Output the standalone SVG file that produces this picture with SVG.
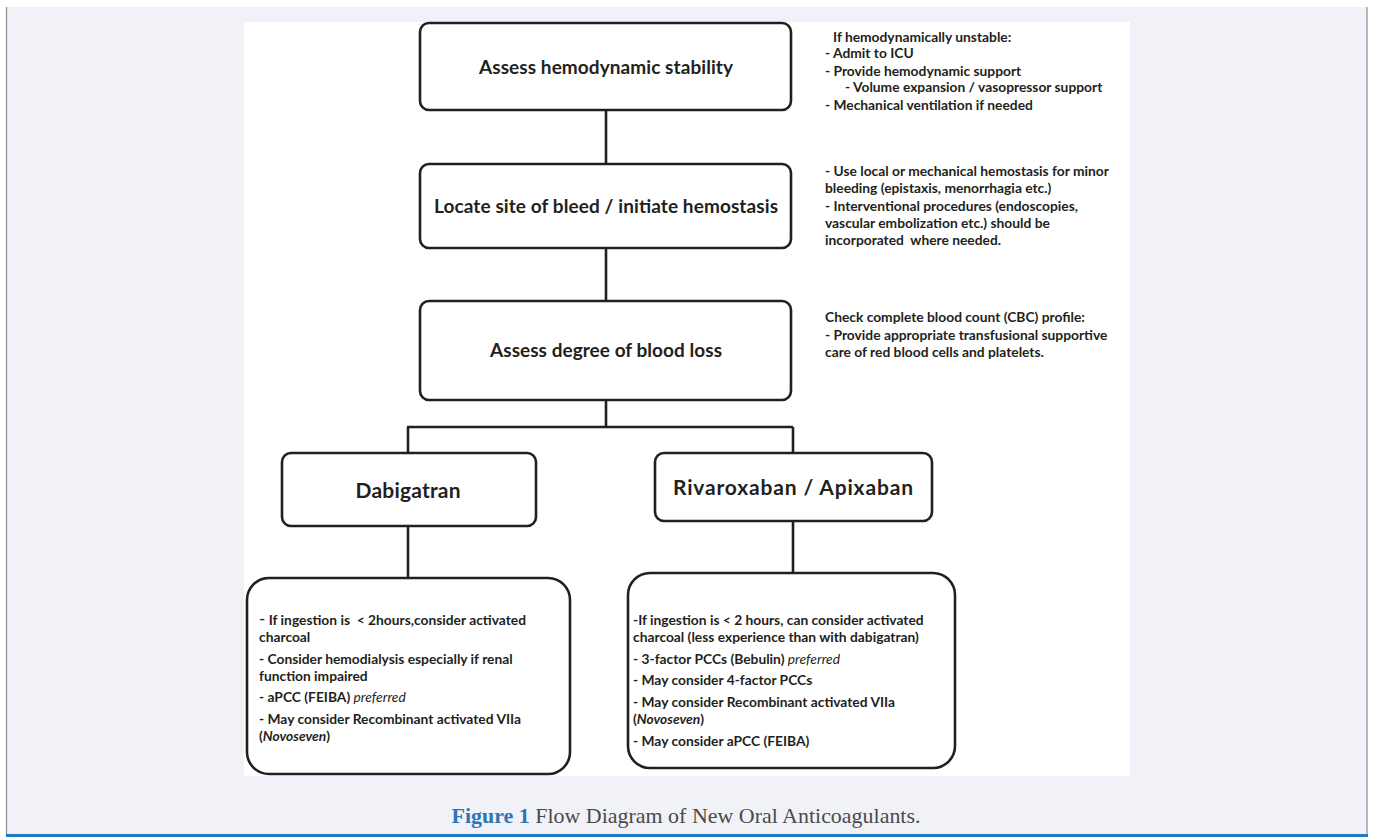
<svg xmlns="http://www.w3.org/2000/svg" width="1373" height="837" viewBox="0 0 1373 837">
<style>
.node rect{fill:#fff;stroke:#231f20;stroke-width:2.6}
.title{font-family:Lato,"Liberation Sans",sans-serif;font-weight:700;fill:#231f20;text-anchor:middle}
.note{font-family:Lato,"Liberation Sans",sans-serif;font-weight:700;font-size:13.8px;fill:#231f20}
.it{font-style:italic;font-weight:400}
.bi{font-style:italic;font-weight:700}
#connectors line{stroke:#231f20;stroke-width:2.6;fill:none}
</style>
<rect x="0" y="0" width="1373" height="837" fill="#fff"/>
<rect x="6" y="7" width="1361" height="830" fill="#f0f2f7"/>
<line x1="6.5" y1="7" x2="6.5" y2="836" stroke="#8c8c8c" stroke-width="1.2"/>
<line x1="1367" y1="7" x2="1367" y2="836" stroke="#8c8c8c" stroke-width="1.2"/>
<rect x="6" y="834" width="1362" height="3" fill="#1f7ac2"/>
<rect x="244" y="22" width="886" height="754" fill="#fff"/>

<g id="connectors">
<line x1="606" y1="110" x2="606" y2="164"/>
<line x1="606" y1="248" x2="606" y2="301"/>
<line x1="606" y1="400" x2="606" y2="427"/>
<line x1="407" y1="427" x2="793" y2="427"/>
<line x1="408" y1="427" x2="408" y2="453"/>
<line x1="793" y1="427" x2="793" y2="453"/>
<line x1="408" y1="526" x2="408" y2="578"/>
<line x1="793" y1="521" x2="793" y2="573"/>
</g>

<g id="n1" class="node">
<rect x="420" y="23" width="371" height="87" rx="9"/>
<text class="title" x="606" y="74" font-size="19" textLength="254" lengthAdjust="spacing">Assess hemodynamic stability</text>
</g>
<g id="n2" class="node">
<rect x="420" y="164" width="371" height="84" rx="9"/>
<text class="title" x="606" y="213" font-size="19" textLength="344" lengthAdjust="spacing">Locate site of bleed / initiate hemostasis</text>
</g>
<g id="n3" class="node">
<rect x="420" y="301" width="371" height="99" rx="9"/>
<text class="title" x="606" y="357" font-size="19" textLength="232" lengthAdjust="spacing">Assess degree of blood loss</text>
</g>
<g id="n4" class="node">
<rect x="282" y="453" width="254" height="73" rx="9"/>
<text class="title" x="408" y="498" font-size="21" textLength="105" lengthAdjust="spacing">Dabigatran</text>
</g>
<g id="n5" class="node">
<rect x="655" y="453" width="277" height="68" rx="9"/>
<text class="title" x="793" y="495" font-size="21" textLength="240" lengthAdjust="spacing">Rivaroxaban / Apixaban</text>
</g>

<g id="n6" class="node">
<rect x="247" y="578" width="323" height="196" rx="22"/>
<text class="note" x="259" y="625"><tspan font-size="17" font-weight="400">-</tspan> If ingestion is &#160;&lt; 2hours,consider activated</text>
<text class="note" x="259" y="642">charcoal</text>
<text class="note" x="259" y="664">- Consider hemodialysis especially if renal</text>
<text class="note" x="259" y="681">function impaired</text>
<text class="note" x="259" y="702">- aPCC (FEIBA) <tspan class="it">preferred</tspan></text>
<text class="note" x="259" y="724">- May consider Recombinant activated VIIa</text>
<text class="note" x="259" y="741">(<tspan class="bi">Novoseven</tspan>)</text>
</g>

<g id="n7" class="node">
<rect x="628" y="573" width="327" height="195" rx="22"/>
<text class="note" x="633" y="625">-If ingestion is &lt; 2 hours, can consider activated</text>
<text class="note" x="633" y="642">charcoal (less experience than with dabigatran)</text>
<text class="note" x="633" y="664">- 3-factor PCCs (Bebulin) <tspan class="it">preferred</tspan></text>
<text class="note" x="633" y="685">- May consider 4-factor PCCs</text>
<text class="note" x="633" y="707">- May consider Recombinant activated VIIa</text>
<text class="note" x="633" y="724">(<tspan class="bi">Novoseven</tspan>)</text>
<text class="note" x="633" y="746">- May consider aPCC (FEIBA)</text>
</g>

<g id="note1">
<text class="note" x="833" y="42">If hemodynamically unstable:</text>
<text class="note" x="825" y="58">- Admit to ICU</text>
<text class="note" x="825" y="76">- Provide hemodynamic support</text>
<text class="note" x="845" y="92">- Volume expansion / vasopressor support</text>
<text class="note" x="825" y="110">- Mechanical ventilation if needed</text>
</g>
<g id="note2">
<text class="note" x="825" y="176">- Use local or mechanical hemostasis for minor</text>
<text class="note" x="825" y="193">bleeding (epistaxis, menorrhagia etc.)</text>
<text class="note" x="825" y="211">- Interventional procedures (endoscopies,</text>
<text class="note" x="825" y="228">vascular embolization etc.) should be</text>
<text class="note" x="825" y="245">incorporated &#160;where needed.</text>
</g>
<g id="note3">
<text class="note" x="825" y="322">Check complete blood count (CBC) profile:</text>
<text class="note" x="825" y="340">- Provide appropriate transfusional supportive</text>
<text class="note" x="825" y="357">care of red blood cells and platelets.</text>
</g>

<text x="686" y="823" text-anchor="middle" font-family="'Liberation Serif',serif" font-size="21" fill="#4a4a4a" textLength="469" lengthAdjust="spacingAndGlyphs"><tspan fill="#2f74b5" font-weight="700">Figure 1</tspan> Flow Diagram of New Oral Anticoagulants.</text>
</svg>
